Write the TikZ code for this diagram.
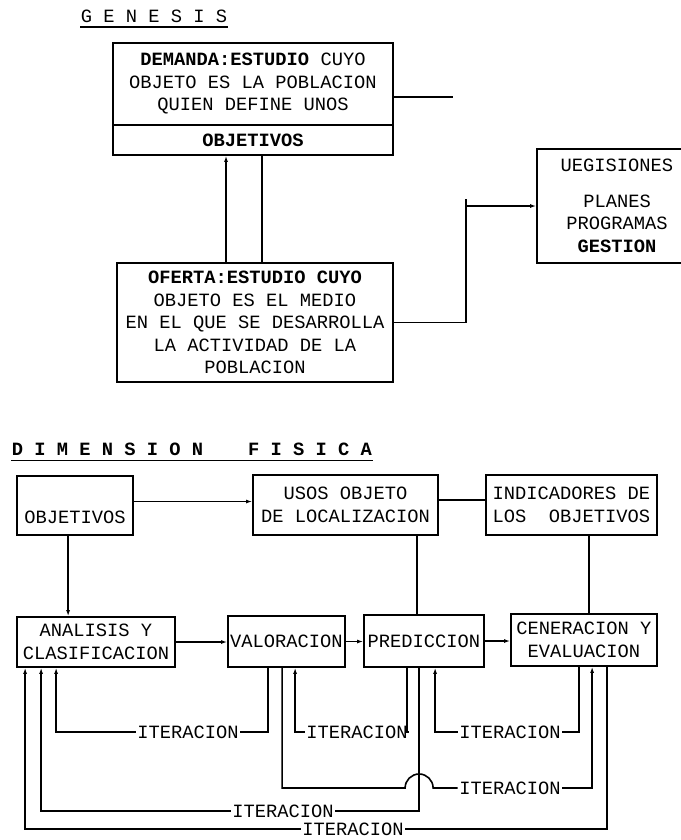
\documentclass[tikz,border=0pt]{standalone}
\usepackage{fontspec}
\setmonofont{Liberation Mono}
\usetikzlibrary{arrows.meta,positioning}

\begin{document}
\begin{tikzpicture}[x=1pt,y=-1pt,
  font=\ttfamily\fontsize{18.75}{22.5}\selectfont,
  >={Latex[length=6pt,width=4pt]},line width=1.6pt,
  box/.style={draw,line width=1.8pt,inner sep=1pt,align=center},
  iter/.style={inner sep=1pt},
  head/.style={inner sep=0pt,anchor=base west}]
  \path[use as bounding box,fill=white] (0,0) rectangle (680,840);

  % genesis
  \node[head] (genesis) at (80,23) {G E N E S I S};
  \draw[line width=1.1pt] ([yshift=-4pt]genesis.base west) -- ([yshift=-4pt]genesis.base east);
  \node[box,minimum width=280pt,minimum height=82pt] (demanda) at (253,84) {\textbf{DEMANDA:ESTUDIO} CUYO\\OBJETO ES LA POBLACION\\QUIEN DEFINE UNOS};
  \node[box,minimum width=280pt,minimum height=30pt,anchor=north] (demobj) at ([yshift=1.8pt]demanda.south) {\textbf{OBJETIVOS}};
  \node[box,minimum width=276pt,minimum height=119pt] (oferta) at (255,322.5) {\textbf{OFERTA:ESTUDIO CUYO}\\OBJETO ES EL MEDIO\\EN EL QUE SE DESARROLLA\\LA ACTIVIDAD DE LA\\POBLACION};
  \node[box,minimum width=160pt,minimum height=114pt] (decis) at (617,206) {UEGISIONES\\[13pt]PLANES\\PROGRAMAS\\\textbf{GESTION}};
  \coordinate (demout) at (453,97);
  \coordinate (junc) at (466,199);
  \draw (demanda.east |- demout) -- (demout);
  \draw[->] ([xshift=-29pt]oferta.north) coordinate (up1) -- (up1 |- demobj.south);
  \draw ([xshift=7pt]oferta.north) coordinate (up2) -- (up2 |- demobj.south);
  \draw (oferta.east) -| (junc);
  \draw[->] (junc |- decis.west) -- (decis.west);

  % dimension fisica
  \node[head] (dimfis) at (11,455.5) {\textbf{D I M E N S I O N~~~~F I S I C A}};
  \draw ([yshift=-5pt]dimfis.base west) -- ([yshift=-5pt]dimfis.base east);
  \node[box,minimum width=116pt,minimum height=59pt,text height=36pt,text depth=0pt] (objetivos) at (75,505.5) {OBJETIVOS};
  \node[box,minimum width=185pt,minimum height=60pt] (usos) at (345.5,505) {USOS OBJETO\\DE LOCALIZACION};
  \node[box,minimum width=171pt,minimum height=60pt] (indic) at (571.5,505) {INDICADORES DE\\LOS~~OBJETIVOS};
  \node[box,minimum width=158pt,minimum height=50pt] (analisis) at (96,642) {ANALISIS Y\\CLASIFICACION};
  \node[box,minimum width=117pt,minimum height=51pt] (valoracion) at (286.5,641.5) {VALORACION};
  \node[box,minimum width=120pt,minimum height=52pt] (prediccion) at (424,641) {PREDICCION};
  \node[box,minimum width=146pt,minimum height=52pt] (generacion) at (584,640) {CENERACION Y\\EVALUACION};

  \draw[->] ([yshift=4pt]objetivos.east) coordinate (o2) -- (o2 -| usos.west);
  \draw ([yshift=5pt]usos.east) coordinate (u2) -- (u2 -| indic.west);
  \draw[->] ([xshift=52pt]objetivos.south west) coordinate (o1) -- (o1 |- analisis.north);
  \draw ([xshift=165pt]usos.south west) coordinate (u1) -- (u1 |- prediccion.north);
  \draw ([xshift=104pt]indic.south west) coordinate (i1) -- (i1 |- generacion.north);
  \draw[->] (analisis.east) -- (analisis.east -| valoracion.west);
  \draw[->] (valoracion.east) -- (valoracion.east -| prediccion.west);
  \draw[->] (prediccion.east) -- (prediccion.east -| generacion.west);

  % iteraciones
  \foreach \n/\d in {1/9,2/25,3/40} \coordinate (a\n) at ([xshift=\d pt]analisis.south west);
  \foreach \n/\d in {1/41,2/55,3/68} \coordinate (v\n) at ([xshift=\d pt]valoracion.south west);
  \foreach \n/\d in {1/44,2/56,3/72} \coordinate (p\n) at ([xshift=\d pt]prediccion.south west);
  \foreach \n/\d in {1/69,2/82,3/97} \coordinate (g\n) at ([xshift=\d pt]generacion.south west);
  \foreach \n/\x/\y in {A/188/732,B/357/732,C/510/732,D/510/788,E/283/811,F/353/829}
    \node[iter] (it\n) at (\x,\y) {ITERACION};

  \draw (v1) |- (itA.east);
  \draw[->] (itA.west) -| (a3);
  \draw (p1) |- (itB.east);
  \draw[->] (itB.west) -| (v3);
  \draw (g1) |- (itC.east);
  \draw[->] (itC.west) -| (p3);
  \coordinate (hop) at (p2 |- itD.west);
  \draw (v2) |- ([xshift=-14pt]hop) arc[start angle=180,end angle=0,radius=14pt] -- (itD.west);
  \draw[->] (itD.east) -| (g2);
  \draw (p2) |- (itE.east);
  \draw[->] (itE.west) -| (a2);
  \draw (g3) |- (itF.east);
  \draw[->] (itF.west) -| (a1);
\end{tikzpicture}
\end{document}
